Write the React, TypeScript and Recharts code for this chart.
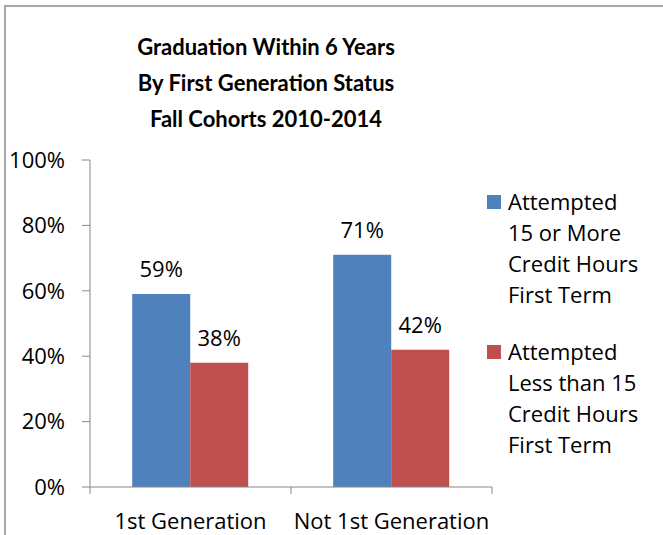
import { BarChart, Bar, XAxis, YAxis, Legend, LabelList } from 'recharts';

const CATEGORIES = ['1st Generation', 'Not 1st Generation'];
const FIFTEEN_OR_MORE = [0.59, 0.71];
const LESS_THAN_FIFTEEN = [0.38, 0.42];
const Y_TICKS = [0, 0.2, 0.4, 0.6, 0.8, 1];
const TITLE_LINES = [
  'Graduation Within 6 Years',
  'By First Generation Status',
  'Fall Cohorts 2010-2014',
];
const SERIES_NAMES = [
  'Attempted 15 or More Credit Hours First Term',
  'Attempted Less than 15 Credit Hours First Term',
];
const LEGEND_LINES = [
  ['Attempted', '15 or More', 'Credit Hours', 'First Term'],
  ['Attempted', 'Less than 15', 'Credit Hours', 'First Term'],
];

const COLORS = ['#4f81bd', '#c0504d'];
const AXIS_COLOR = '#868686';
const FONT = '"Open Sans", sans-serif';
const TITLE_FONT = 'Lato, "Open Sans", sans-serif';
const FONT_SIZE = 22;
const X_TICK_SIZE = 7;
const X_TICK_MARGIN = 19;

const data = CATEGORIES.map((name, i) => ({
  name,
  fifteenOrMore: FIFTEEN_OR_MORE[i],
  lessThanFifteen: LESS_THAN_FIFTEEN[i],
}));

const pct = (v: number) => `${Math.round(v * 100)}%`;

// category labels centred, tick marks on the category boundaries (Excel style)
function CategoryTick(props: any) {
  const { x, y, payload, index, visibleTicksCount, width } = props;
  const half = payload.offset || width / visibleTicksCount / 2;
  const top = y - X_TICK_MARGIN - X_TICK_SIZE;
  return (
    <g>
      <line x1={x - half} x2={x - half} y1={top} y2={top + X_TICK_SIZE} stroke={AXIS_COLOR} />
      {index === visibleTicksCount - 1 && (
        <line x1={x + half} x2={x + half} y1={top} y2={top + X_TICK_SIZE} stroke={AXIS_COLOR} />
      )}
      <text x={x} y={y} dy="0.71em" textAnchor="middle" fill="#000" fontSize={FONT_SIZE} fontFamily={FONT}>
        {payload.value}
      </text>
    </g>
  );
}

function SeriesLegend(props: any) {
  const { payload = [] } = props;
  return (
    <div style={{ fontFamily: FONT, fontSize: FONT_SIZE, color: '#000' }}>
      {payload.map((entry: any, i: number) => (
        <div key={entry.value} style={{ display: 'flex', alignItems: 'flex-start', marginBottom: i === 0 ? 26 : 0 }}>
          <span
            style={{ width: 14, height: 14, background: entry.color, marginTop: 9, marginRight: 7, flexShrink: 0 }}
          />
          <div style={{ lineHeight: '31px' }}>
            {LEGEND_LINES[i].map((line) => (
              <div key={line}>{line}</div>
            ))}
          </div>
        </div>
      ))}
    </div>
  );
}

export default function App() {
  return (
    <div style={{ position: 'absolute', left: 0, top: 0, width: 663, height: 535, overflow: 'hidden', background: '#fff' }}>
      <div
        style={{ position: 'absolute', left: 4, top: 5, width: 720, height: 600, border: '2px solid #a6a6a6' }}
      />
      <BarChart
        width={663}
        height={535}
        data={data}
        margin={{ top: 160, right: 171, bottom: 0, left: 0 }}
        barGap={0}
        barCategoryGap="21%"
      >
        <text textAnchor="middle" fontFamily={TITLE_FONT} fontWeight="bold" fontSize={22} fill="#000">
          {TITLE_LINES.map((line, i) => (
            <tspan key={line} x={266} y={55 + i * 36}>
              {line}
            </tspan>
          ))}
        </text>
        <XAxis
          dataKey="name"
          height={48}
          axisLine={{ stroke: AXIS_COLOR }}
          tickLine={false}
          tickSize={X_TICK_SIZE}
          tickMargin={X_TICK_MARGIN}
          tick={<CategoryTick />}
          interval={0}
        />
        <YAxis
          width={90}
          domain={[0, 1]}
          ticks={Y_TICKS}
          tickFormatter={pct}
          axisLine={{ stroke: AXIS_COLOR }}
          tickLine={{ stroke: AXIS_COLOR }}
          tickSize={8}
          tickMargin={17}
          tick={{ fill: '#000', fontSize: FONT_SIZE, fontFamily: FONT }}
        />
        <Legend
          layout="vertical"
          align="center"
          verticalAlign="middle"
          wrapperStyle={{ left: 487, top: 186, width: 176 }}
          content={<SeriesLegend />}
        />
        <Bar dataKey="fifteenOrMore" name={SERIES_NAMES[0]} fill={COLORS[0]} isAnimationActive={false}>
          <LabelList dataKey="fifteenOrMore" position="top" offset={17} formatter={pct} fill="#000" fontSize={FONT_SIZE} fontFamily={FONT} />
        </Bar>
        <Bar dataKey="lessThanFifteen" name={SERIES_NAMES[1]} fill={COLORS[1]} isAnimationActive={false}>
          <LabelList dataKey="lessThanFifteen" position="top" offset={17} formatter={pct} fill="#000" fontSize={FONT_SIZE} fontFamily={FONT} />
        </Bar>
      </BarChart>
    </div>
  );
}
